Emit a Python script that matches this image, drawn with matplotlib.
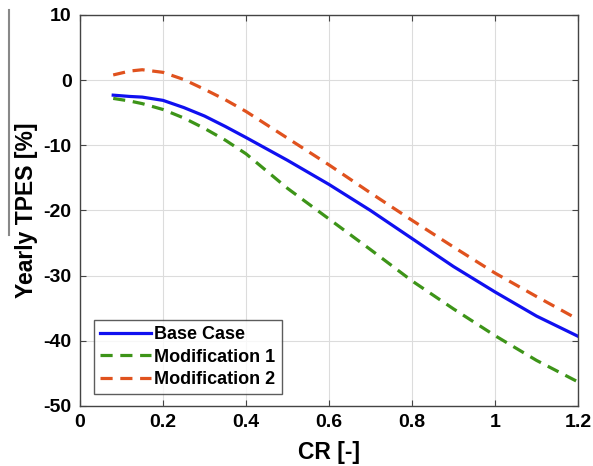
import matplotlib
matplotlib.use("Agg")
import matplotlib.pyplot as plt
from matplotlib.lines import Line2D

plt.rcParams['font.family'] = ['Liberation Sans', 'DejaVu Sans']
plt.rcParams['font.weight'] = 'bold'
plt.rcParams['axes.unicode_minus'] = False

cr = [0.08, 0.12, 0.15, 0.2, 0.25, 0.3, 0.35, 0.4, 0.5, 0.6, 0.7, 0.8, 0.9, 1.0, 1.1, 1.2]
base_case = [-2.3, -2.5, -2.6, -3.1, -4.2, -5.5, -7.1, -8.8, -12.3, -16.0, -20.0, -24.3, -28.6, -32.5, -36.2, -39.3]
mod1 = [-2.8, -3.2, -3.6, -4.5, -5.8, -7.4, -9.2, -11.3, -16.6, -21.3, -26.0, -30.8, -35.1, -39.2, -43.0, -46.3]
mod2 = [0.8, 1.4, 1.6, 1.2, 0.1, -1.4, -3.0, -4.8, -8.9, -13.0, -17.3, -21.5, -25.6, -29.6, -33.2, -36.7]

fig = plt.figure(figsize=(5.93, 4.66), dpi=100)
ax = fig.add_axes([80/593, 1-406/466, 498/593, 391/466])

ax.plot(cr, base_case, color='#1010f0', lw=2.3, label='Base Case')
ax.plot(cr, mod1, color='#3d9418', lw=2.3, ls=(0, (3.8, 2.4)), label='Modification 1')
ax.plot(cr, mod2, color='#e0521e', lw=2.3, ls=(0, (3.8, 2.4)), label='Modification 2')

ax.set_xlim(0, 1.2)
ax.set_ylim(-50, 10)
ax.set_xticks([0, 0.2, 0.4, 0.6, 0.8, 1.0, 1.2])
ax.set_xticklabels(['0', '0.2', '0.4', '0.6', '0.8', '1', '1.2'])
ax.set_yticks([-50, -40, -30, -20, -10, 0, 10])
ax.grid(True, color='#dcdcdc', lw=0.8)
ax.tick_params(direction='in', top=True, right=True, labelsize=14, length=4, color='#444444', pad=6)
for lab in ax.get_xticklabels() + ax.get_yticklabels():
    lab.set_fontweight('bold')
for s in ax.spines.values():
    s.set_color('#444444')
    s.set_linewidth(1.0)

ax.set_xlabel('CR [-]', fontsize=16.5, fontweight='bold', labelpad=7)
ax.set_ylabel('Yearly TPES [%]', fontsize=16.5, fontweight='bold', labelpad=4)

leg = ax.legend(loc='lower left', bbox_to_anchor=(0.028, 0.03), fontsize=13,
                frameon=True, fancybox=False, edgecolor='#333333', handlelength=2.8,
                handletextpad=0.2, borderpad=0.35, labelspacing=0.3, borderaxespad=0)
leg.get_frame().set_linewidth(1.0)
for t in leg.get_texts():
    t.set_fontweight('bold')

# thin gray border line at the left edge of the original image
fig.add_artist(Line2D([9/593, 9/593], [1-10/466, 1-235/466], color='#888888', lw=1.5,
                      transform=fig.transFigure, zorder=0))

fig.savefig('out.png', dpi=100)
